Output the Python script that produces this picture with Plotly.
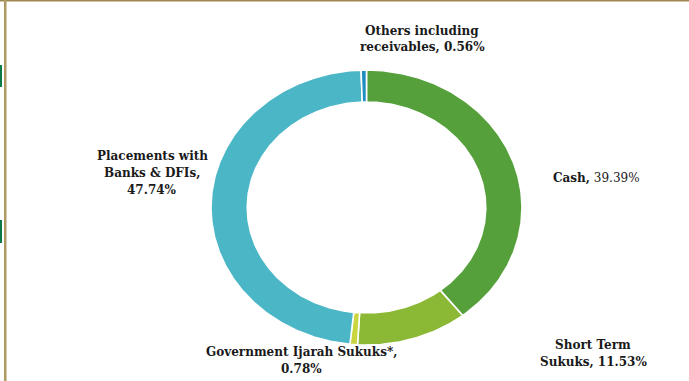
import numpy as np
import plotly.graph_objects as go

# ---- data ----
categories = ["Cash", "Short Term Sukuks", "Government Ijarah Sukuks*",
              "Placements with Banks & DFIs", "Others including receivables"]
values = [39.39, 11.53, 0.78, 47.74, 0.56]
colors = ["#55A03B", "#8BB935", "#C9D63F", "#4BB6C6", "#1F8DBF"]
label_lines = [
    ["<b>Cash,</b> 39.39%"],
    ["<b>Short Term</b>", "<b>Sukuks, 11.53%</b>"],
    ["<b>Government Ijarah Sukuks*,</b>", "<b>0.78%</b>"],
    ["<b>Placements with</b>", "<b>Banks &amp; DFIs,</b>", "<b>47.74%</b>"],
    ["<b>Others including</b>", "<b>receivables, 0.56%</b>"],
]
# label centre (x pixel, first-line y pixel, line step)
label_pos = [(596, 178, 16), (593, 345, 16.5), (301, 352, 17), (152, 156, 17), (422, 31, 16)]

W, H = 689, 381
cx, cy = 366.5, 207.5          # centre in pixels
rx, ry = 155.5, 137.5          # outer radii in pixels
inner = 0.767

fig = go.Figure()
total = sum(values)
start = 0.0
for cat, v, col in zip(categories, values, colors):
    a0 = start / total * 2 * np.pi
    a1 = (start + v) / total * 2 * np.pi
    t = np.linspace(a0, a1, max(4, int(v * 6)))
    xo, yo = np.sin(t), np.cos(t)
    xs = np.concatenate([xo, inner * xo[::-1], [xo[0]]])
    ys = np.concatenate([yo, inner * yo[::-1], [yo[0]]])
    fig.add_trace(go.Scatter(x=xs, y=ys, mode="lines", fill="toself",
                             fillcolor=col, line=dict(color="white", width=1.6),
                             name=cat, hoverinfo="name", showlegend=False))
    start += v

font = dict(family="DejaVu Serif", size=12, color="#1a1a1a")
for lines, (px, py, step) in zip(label_lines, label_pos):
    for i, txt in enumerate(lines):
        fig.add_annotation(x=px / W, y=1 - (py + i * step) / H, xref="paper", yref="paper",
                           text=txt, showarrow=False, font=font,
                           xanchor="center", yanchor="middle")

shapes = [
    dict(type="line", xref="paper", yref="paper", x0=0.0, x1=1, y0=0.9985, y1=0.9985,
         line=dict(color="#9E8752", width=2)),
    dict(type="rect", xref="paper", yref="paper", x0=4 / W, x1=6.5 / W, y0=0, y1=1,
         line=dict(width=0), fillcolor="#B09A64"),
    dict(type="rect", xref="paper", yref="paper", x0=0, x1=2 / W,
         y0=1 - 87 / H, y1=1 - 65 / H, line=dict(width=0), fillcolor="#0B7A47"),
    dict(type="rect", xref="paper", yref="paper", x0=0, x1=2 / W,
         y0=1 - 243 / H, y1=1 - 220 / H, line=dict(width=0), fillcolor="#0B7A47"),
]

fig.update_layout(
    width=W, height=H, margin=dict(l=0, r=0, t=0, b=0),
    paper_bgcolor="white", plot_bgcolor="white", shapes=shapes,
    xaxis=dict(range=[-cx / rx, (W - cx) / rx], visible=False, fixedrange=True),
    yaxis=dict(range=[-(H - cy) / ry, cy / ry], visible=False, fixedrange=True),
)
fig.write_html("out.html")
